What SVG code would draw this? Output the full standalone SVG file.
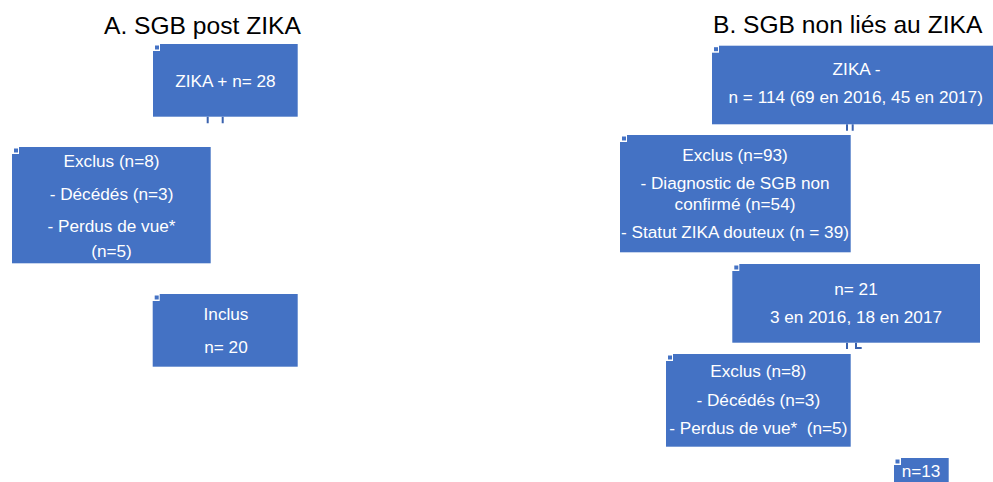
<svg xmlns="http://www.w3.org/2000/svg" width="993" height="482" viewBox="0 0 993 482">
<style>
.box{fill:#4472C4}
.t{font-family:"Liberation Sans",Arial,sans-serif;font-size:17.2px;fill:#FFFFFF;text-anchor:middle}
.title{font-family:"Liberation Sans",Arial,sans-serif;font-size:24.6px;fill:#000000}
.mk{fill:#FFFFFF}
.md{fill:#4472C4}
.c{stroke:#3A62AE;stroke-width:2;fill:none}
</style>
<rect width="993" height="482" fill="#FFFFFF"/>
<text class="title" x="104" y="34.3">A. SGB post ZIKA</text>
<text class="title" x="713" y="33.3">B. SGB non liés au ZIKA</text>
<g id="connectors">
<path class="c" d="M207.7 116.7V123.3M222.7 116.7V123.3"/>
<path class="c" d="M847 124.3V130.7M852.7 124.3V130.7"/>
<path class="c" d="M847 342.7V349M856 342.7V348H861.7"/>
</g>
<g id="a1">
<rect class="box" x="153" y="44" width="144.7" height="72.7"/>
<rect class="mk" x="152" y="43" width="8" height="8"/><rect class="md" x="155" y="45.5" width="4" height="4"/>
<text class="t" x="225.5" y="87.3">ZIKA + n= 28</text>
</g>
<g id="a2">
<rect class="box" x="12" y="147" width="198.7" height="116.3"/>
<rect class="mk" x="11" y="146" width="8" height="8"/><rect class="md" x="14" y="148.5" width="4" height="4"/>
<text class="t" x="111.5" y="166.7">Exclus (n=8)</text>
<text class="t" x="111.5" y="200">- Décédés (n=3)</text>
<text class="t" x="111.5" y="231.7">- Perdus de vue*</text>
<text class="t" x="111.5" y="256.7">(n=5)</text>
</g>
<g id="a3">
<rect class="box" x="152.7" y="294" width="145" height="72.7"/>
<rect class="mk" x="151.7" y="293" width="8" height="8"/><rect class="md" x="154.7" y="295.5" width="4" height="4"/>
<text class="t" x="226" y="320">Inclus</text>
<text class="t" x="226" y="352.7">n= 20</text>
</g>
<g id="b1">
<rect class="box" x="712" y="45.7" width="285" height="78.6"/>
<rect class="mk" x="711" y="44.7" width="8" height="8"/><rect class="md" x="714" y="47.2" width="4" height="4"/>
<text class="t" x="856.5" y="75">ZIKA -</text>
<text class="t" x="855.7" y="103.3">n = 114 (69 en 2016, 45 en 2017)</text>
</g>
<g id="b2">
<rect class="box" x="620" y="135" width="230.7" height="117.3"/>
<rect class="mk" x="619" y="134" width="8" height="8"/><rect class="md" x="622" y="136.5" width="4" height="4"/>
<text class="t" x="735" y="160.7">Exclus (n=93)</text>
<text class="t" x="735" y="189.3">- Diagnostic de SGB non</text>
<text class="t" x="735" y="210">confirmé (n=54)</text>
<text class="t" x="735" y="237.7">- Statut ZIKA douteux (n = 39)</text>
</g>
<g id="b3">
<rect class="box" x="732.3" y="264" width="247.7" height="78.7"/>
<rect class="mk" x="731.3" y="263" width="8" height="8"/><rect class="md" x="734.3" y="265.5" width="4" height="4"/>
<text class="t" x="856" y="295">n= 21</text>
<text class="t" x="856" y="322.7">3 en 2016, 18 en 2017</text>
</g>
<g id="b4">
<rect class="box" x="666" y="354" width="184.7" height="92.7"/>
<rect class="mk" x="665" y="353" width="8" height="8"/><rect class="md" x="668" y="355.5" width="4" height="4"/>
<text class="t" x="758.3" y="377.3">Exclus (n=8)</text>
<text class="t" x="758.3" y="406">- Décédés (n=3)</text>
<text class="t" x="758.3" y="434" style="white-space:pre">- Perdus de vue*  (n=5)</text>
</g>
<g id="b5">
<rect class="box" x="894" y="458" width="54.7" height="30"/>
<rect class="mk" x="893" y="457" width="8" height="8"/><rect class="md" x="895.5" y="459.5" width="4" height="4"/>
<text class="t" x="901.7" y="476.7" style="text-anchor:start">n=13</text>
</g>
</svg>
